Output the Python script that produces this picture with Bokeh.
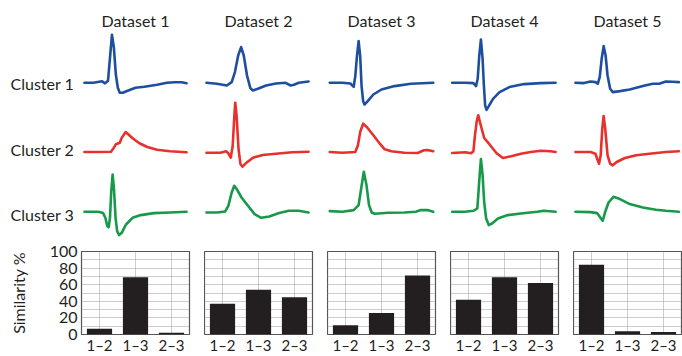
from bokeh.plotting import figure
from bokeh.layouts import row, column
from bokeh.models import Range1d, FactorRange, FixedTicker
from bokeh.core.properties import value
from bokeh.embed import file_html
from bokeh.resources import INLINE

FONT = "Lato"

datasets = ["Dataset 1", "Dataset 2", "Dataset 3", "Dataset 4", "Dataset 5"]
clusters = ["Cluster 1", "Cluster 2", "Cluster 3"]
pairs = ["1\u20132", "1\u20133", "2\u20133"]

# similarity (%) per dataset, for pairs 1-2, 1-3, 2-3
sim_d1 = [7, 69, 2]
sim_d2 = [37, 54, 45]
sim_d3 = [11, 26, 71]
sim_d4 = [42, 69, 62]
sim_d5 = [84, 4, 3]

# mean waveforms: time (samples) and amplitude (a.u.), dataset x cluster
d1_c1_t = [3, 12, 18, 21, 24, 27, 29, 31, 33, 35, 37, 39, 42, 47, 55, 64, 77, 87, 95, 102, 107]
d1_c1_v = [0, 0, 1, 1.5, -0.5, 2, 25, 48, 35, 8, -5, -10, -10, -8, -5, -4, -2, 0, 0.5, 0.5, -0.5]
d1_c2_t = [3, 17, 30, 33, 35, 39, 41, 45, 47, 52, 59, 67, 77, 90, 107]
d1_c2_v = [0, 0, 0.3, 4.3, 7.7, 9.3, 14.3, 20, 18.3, 13.7, 8.7, 5, 2.3, 0.7, -0.3]
d1_c3_t = [3, 17, 22, 24.3, 26.3, 27.7, 29, 30.3, 31.7, 33, 34.7, 36.3, 38.3, 41, 45.3, 52, 60.3, 73.7, 90.3, 107]
d1_c3_v = [0, 0, -1.3, -6, -14.3, -15.3, -6, 20.7, 37.3, 24, -6, -19.3, -23.3, -21, -12.7, -6, -3.3, -1.3, -0.7, 0]

d2_c1_t = [2, 12.7, 22.7, 27.7, 31, 34.3, 37.3, 40, 43.3, 46.7, 49.3, 54.3, 62.7, 72.7, 82.7, 87.7, 91, 96, 106]
d2_c1_v = [0, -1, -2.7, 0.7, 10.7, 27.3, 35.7, 27.3, 7.3, -5.3, -7.7, -6, -2.7, -0.7, 0, -2.7, -2, 0, 1.3]
d2_c2_t = [2, 16, 22, 24.3, 26.7, 28.7, 30, 31.3, 32.7, 34.7, 36.7, 38.7, 42.7, 49.3, 59.3, 72.7, 89.3, 106]
d2_c2_v = [-0.7, -0.7, 0.7, -1.3, -5.7, 6, 29.3, 49.3, 36, 2.7, -12.3, -14.7, -10.7, -5.7, -3, -1.7, -0.3, 0.3]
d2_c3_t = [2, 12.7, 21, 24.3, 27.7, 30.3, 33.3, 37.7, 44.3, 51, 57.7, 66, 76, 86, 96, 106]
d2_c3_v = [-0.7, -0.7, 0.3, 6, 19.3, 26, 22, 14.3, 6, -2.3, -6, -4.7, -1.3, 1, 1, -0.7]

d3_c1_t = [2.3, 15, 23.3, 26.7, 28.3, 30, 31.7, 33.3, 34.7, 36.3, 37.7, 41, 46.7, 55, 68.3, 85, 107.7]
d3_c1_v = [0, 0, -0.7, -4, 6.7, 26.7, 41.7, 26.7, -3.3, -18.3, -21.7, -18.3, -11.7, -6.7, -3.3, -1, 0]
d3_c2_t = [2.3, 15, 28.3, 31, 33.3, 36.3, 40, 46.7, 53.3, 58.3, 65, 78.3, 91.7, 98.3, 101.7, 107.7]
d3_c2_v = [0, -0.7, 0, 6.7, 20, 28.3, 25, 16.7, 8.3, 2.7, 0.7, -0.7, -1, 1.7, 2, 0.7]
d3_c3_t = [2.3, 15, 26.7, 31.7, 34.3, 37, 39.7, 42.3, 45, 48.3, 61.7, 78.3, 90, 95, 101.7, 107.7]
d3_c3_v = [0.7, 0, 1.7, 6.7, 23.3, 40, 26.7, 6.7, -0.7, -2, -1, -0.7, 0, 1.7, 1.7, 0]

d4_c1_t = [1.7, 15, 23.3, 26, 27.7, 29.3, 31, 32.7, 34, 35.3, 36.7, 39, 43.3, 50, 60, 75, 91.7, 107]
d4_c1_v = [0, 0, -0.3, -3.3, 4, 27.3, 43.3, 24, -2.7, -22.7, -27, -23.3, -16, -9.3, -4.3, -1.3, -0.3, 0]
d4_c2_t = [1.7, 15, 21, 23.3, 25, 26.7, 28.3, 30.7, 34.3, 40, 46.7, 53.3, 61.7, 71.7, 81.7, 91.7, 101.7, 107]
d4_c2_v = [-1, -0.3, -1.3, 0.7, 17.3, 30.7, 36.7, 27.3, 14, 7.3, -1, -6, -4.3, -1.7, 0, 1.3, 0.7, 0]
d4_c3_t = [1.7, 15, 23.3, 27.3, 28.3, 29.7, 31, 32.7, 34.3, 36.3, 39, 42.3, 48.3, 58.3, 71.7, 88.3, 95, 107]
d4_c3_v = [0, 0, 1, 3.3, 16.7, 36.7, 52.7, 36.7, 10, -6.7, -13.3, -11.7, -6.7, -3.3, -1.7, 0, 1, 0]

d5_c1_t = [2, 10.7, 17.3, 22.3, 24.7, 26.7, 28.7, 30.7, 32.7, 34.7, 37.3, 40, 47.3, 57.3, 70.7, 80.7, 87.3, 94, 100.7, 107.3]
d5_c1_v = [0, -0.3, 1.3, 0.7, -1, 5.7, 24, 36.7, 27.3, 7.3, -6, -9.3, -8.3, -6.7, -3.3, -1, -1, 1.3, 1, 0.7]
d5_c2_t = [2, 17.3, 22.3, 24.7, 26, 27.7, 29.3, 30.7, 32.3, 34.7, 37.3, 40, 44, 52.3, 64, 77.3, 94, 107.3]
d5_c2_v = [0, 0, -1.7, -8.3, -11.7, -3.3, 23.3, 36, 23.3, -3.3, -11.7, -13.3, -10, -6, -3.3, -1.7, 0, 0.7]
d5_c3_t = [2, 17.3, 24, 27.3, 29.7, 32.3, 35.7, 40.7, 47.3, 57.3, 70.7, 84, 94, 107.3]
d5_c3_v = [0, -0.3, -1.3, -5.7, -9, 0, 9.3, 15, 12.7, 7.7, 4.3, 2, 1, 0]

waves = [
    [(d1_c1_t, d1_c1_v), (d1_c2_t, d1_c2_v), (d1_c3_t, d1_c3_v)],
    [(d2_c1_t, d2_c1_v), (d2_c2_t, d2_c2_v), (d2_c3_t, d2_c3_v)],
    [(d3_c1_t, d3_c1_v), (d3_c2_t, d3_c2_v), (d3_c3_t, d3_c3_v)],
    [(d4_c1_t, d4_c1_v), (d4_c2_t, d4_c2_v), (d4_c3_t, d4_c3_v)],
    [(d5_c1_t, d5_c1_v), (d5_c2_t, d5_c2_v), (d5_c3_t, d5_c3_v)],
]
sims = [sim_d1, sim_d2, sim_d3, sim_d4, sim_d5]

# ---- layout / style ----
colors = ["#1e4f9f", "#e8302c", "#17994a"]
TOP_H = 241
BOT_H = 115
LEFT_W = 81
COL_W = 123
LAST_W = 109
GAP = 15
row_base = [82.3, 151.5, 211.3]       # vertical placement of each cluster row
title_base = 20.0
label_base = [82.8, 148.5, 214.0]
TEXT_COLOR = "#231f20"
GRID_COLOR = "#9a9a9a"


def blank(width, **kw):
    p = figure(width=width, height=TOP_H, toolbar_location=None, output_backend="svg",
               x_axis_location=None, y_axis_location=None, min_border=0,
               y_range=Range1d(TOP_H, 0), **kw)
    p.outline_line_color = None
    p.xgrid.visible = False
    p.ygrid.visible = False
    p.background_fill_color = None
    p.border_fill_color = None
    return p


# cluster labels
lab = blank(LEFT_W, x_range=Range1d(0, LEFT_W))
lab.text(x=[10, 10, 10], y=label_base, text=clusters, text_align="left",
         text_baseline="alphabetic", text_font=value(FONT), text_font_size="16px",
         text_color=TEXT_COLOR)

top_figs = [lab]
for i in range(5):
    w = COL_W if i < 4 else LAST_W
    p = blank(w, x_range=Range1d(0, 110))
    p.min_border_right = GAP if i < 4 else 1
    p.text(x=[55], y=[title_base], text=[datasets[i]], text_align="center",
           text_baseline="alphabetic", text_font=value(FONT), text_font_size="16px",
           text_color=TEXT_COLOR)
    for k in range(3):
        t, v = waves[i][k]
        p.line(t, [row_base[k] - a for a in v], line_color=colors[k], line_width=2.6,
               line_join="round", line_cap="round")
    top_figs.append(p)

bot_figs = []
for i in range(5):
    if i == 0:
        w = LEFT_W + COL_W
    elif i < 4:
        w = COL_W
    else:
        w = LAST_W
    p = figure(width=w, height=BOT_H, toolbar_location=None, output_backend="svg",
               x_range=FactorRange(*pairs), y_range=Range1d(0, 100),
               y_axis_location="left" if i == 0 else None, min_border=0)
    p.min_border_left = LEFT_W if i == 0 else 0
    p.min_border_right = GAP if i < 4 else 1
    p.min_border_top = 10
    p.min_border_bottom = 19
    p.vbar(x=pairs, top=sims[i], width=0.7, fill_color="#231f20", line_color=None)
    p.outline_line_color = "#555555"
    p.outline_line_width = 1.2
    p.background_fill_color = None
    p.border_fill_color = None
    p.xgrid.grid_line_color = GRID_COLOR
    p.xgrid.grid_line_dash = "1 1"
    p.ygrid.ticker = FixedTicker(ticks=list(range(10, 100, 10)))
    p.ygrid.grid_line_color = GRID_COLOR
    p.ygrid.grid_line_dash = "1 1"
    p.xaxis.axis_line_color = None
    p.xaxis.major_tick_line_color = None
    p.xaxis.major_tick_out = 0
    p.xaxis.major_tick_in = 0
    p.xaxis.major_label_standoff = 1
    p.xaxis.major_label_text_line_height = 1.0
    p.xaxis.major_label_text_font = FONT
    p.xaxis.major_label_text_font_size = "15px"
    p.xaxis.major_label_text_color = TEXT_COLOR
    if i == 0:
        p.yaxis.ticker = FixedTicker(ticks=[0, 20, 40, 60, 80, 100])
        p.yaxis.axis_line_color = None
        p.yaxis.major_tick_line_color = None
        p.yaxis.minor_tick_line_color = None
        p.yaxis.major_tick_out = 0
        p.yaxis.major_tick_in = 0
        p.yaxis.major_label_standoff = 4
        p.yaxis.major_label_text_font = FONT
        p.yaxis.major_label_text_font_size = "16px"
        p.yaxis.major_label_text_color = TEXT_COLOR
        p.yaxis.axis_label = "Similarity %"
        p.yaxis.axis_label_text_font = FONT
        p.yaxis.axis_label_text_font_size = "16px"
        p.yaxis.axis_label_text_font_style = "normal"
        p.yaxis.axis_label_text_color = TEXT_COLOR
        p.yaxis.axis_label_standoff = 19
    bot_figs.append(p)

layout = column(row(*top_figs), row(*bot_figs))

open("out.html", "w").write(file_html(layout, INLINE))
